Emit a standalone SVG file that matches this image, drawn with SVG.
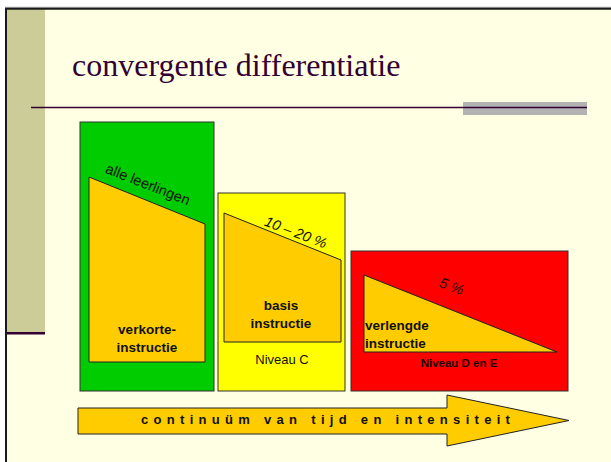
<svg xmlns="http://www.w3.org/2000/svg" width="611" height="462" viewBox="0 0 611 462">
<style>
.box{stroke:#333;stroke-width:1}
.org{fill:#FFCC00;stroke:#222;stroke-width:1}
.lbl{font-family:"Liberation Sans",Arial,sans-serif;font-size:13px;fill:#111}
.b{font-weight:bold;font-size:13.5px}
.it{font-style:italic;font-size:14.5px}
</style>
<rect x="0" y="0" width="611" height="462" fill="#ffffff"/>
<g id="slide">
<rect x="6" y="9" width="605" height="453" fill="#FFFFE3"/>
<rect x="7" y="9" width="38" height="324" fill="#CCCC99"/>
<line x1="7" y1="333.3" x2="45" y2="333.3" stroke="#330033" stroke-width="2.5"/>
<line x1="5" y1="7.3" x2="611" y2="7.3" stroke="#999" stroke-width="1"/>
<line x1="5" y1="8.8" x2="611" y2="8.8" stroke="#1a1a1a" stroke-width="2"/>
<line x1="6" y1="8" x2="6" y2="462" stroke="#1a1a1a" stroke-width="2"/>
<rect x="463" y="102" width="124" height="13" fill="#B2B2B2"/>
<line x1="31" y1="107.6" x2="587" y2="107.6" stroke="#330033" stroke-width="1.5"/>
<text x="72" y="76" font-family="'Liberation Serif','Times New Roman',serif" font-size="32" fill="#330033">convergente differentiatie</text>
</g>
<g id="node-green">
<rect class="box" x="80" y="122" width="134" height="269" fill="#00CC00"/>
<polygon class="org" points="89,177 205,224 205,362 89,362"/>
<text class="lbl" transform="translate(146,189) rotate(21.5)" text-anchor="middle" style="font-size:14.5px">alle leerlingen</text>
<text class="lbl b" x="147" y="334" text-anchor="middle">verkorte-</text>
<text class="lbl b" x="147" y="351.5" text-anchor="middle">instructie</text>
</g>
<g id="node-yellow">
<rect class="box" x="218" y="193" width="127" height="198" fill="#FFFF00"/>
<polygon class="org" points="224,213 341,260 341,342 224,342"/>
<text class="lbl it" transform="translate(294,237) rotate(21)" text-anchor="middle">10 – 20 %</text>
<text class="lbl b" x="281" y="310" text-anchor="middle">basis</text>
<text class="lbl b" x="281" y="328" text-anchor="middle">instructie</text>
<text class="lbl" x="282" y="364" text-anchor="middle">Niveau C</text>
</g>
<g id="node-red">
<rect class="box" x="351" y="251" width="217" height="140" fill="#FF0000"/>
<polygon class="org" points="364,275 557,352 364,352"/>
<text class="lbl it" transform="translate(450,291) rotate(21)" text-anchor="middle">5 %</text>
<text class="lbl b" x="365" y="330">verlengde</text>
<text class="lbl b" x="365" y="347.5">instructie</text>
<text class="lbl b" x="459" y="366.5" text-anchor="middle" style="font-size:11.5px;fill:#220000">Niveau D en E</text>
</g>
<g id="node-arrow">
<polygon points="78,408 447,408 447,395 569,420.5 447,446 447,434 78,434" fill="#FFCC00" stroke="#222" stroke-width="1"/>
<text class="lbl b" x="141" y="424" style="font-size:13px;letter-spacing:5.3px">continuüm van tijd en intensiteit</text>
</g>
<g id="connectors"></g>
</svg>
